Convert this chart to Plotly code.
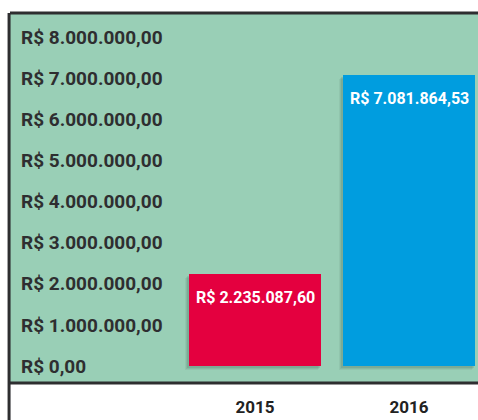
import plotly.graph_objects as go

# Values (R$) per year
years = ["2015", "2016"]
values = [2235087.60, 7081864.53]
bar_colors = ["#e4003f", "#009ddf"]

# Y-axis ticks
tick_vals = [0, 1000000, 2000000, 3000000, 4000000, 5000000, 6000000, 7000000, 8000000]


def brl(v):
    s = f"{v:,.2f}"
    s = s.replace(",", "X").replace(".", ",").replace("X", ".")
    return "R$ " + s


tick_text = [brl(v) for v in tick_vals]

FONT = "Roboto"
GREEN = "#99cfb6"
DARK = "#2e2e30"

W, H = 478, 420
ML, MR, MT, MB = 10, 0, 13, 37
plot_h = H - MT - MB
plot_w = W - ML - MR

y_min, y_max = -412000, 8582000
x_min, x_max = -1.591, 1.448
bar_w = 0.857

units_per_px_y = (y_max - y_min) / plot_h
units_per_px_x = (x_max - x_min) / plot_w

fig = go.Figure()

# soft drop shadow under each bar (a few translucent layers)
for k, a in [(4, 0.06), (3, 0.08), (2, 0.10)]:
    fig.add_trace(go.Bar(
        x=years, y=values,
        base=-k * units_per_px_y,
        width=bar_w + units_per_px_x * 1,
        offset=-bar_w / 2 - k * units_per_px_x,
        marker=dict(color=f"rgba(20,50,35,{a})", line=dict(width=0)),
        hoverinfo="skip", showlegend=False,
    ))

fig.add_trace(go.Bar(
    x=years, y=values,
    width=bar_w,
    marker=dict(color=bar_colors, line=dict(width=0)),
    showlegend=False,
))

for i, v in enumerate(values):
    fig.add_annotation(
        x=i, y=v, xref="x", yref="y", text=brl(v), showarrow=False,
        yanchor="top", yshift=-12,
        font=dict(family=FONT, size=16, color="#ffffff"),
    )

# frame lines
line = dict(color=DARK, width=3)
fig.add_shape(type="line", xref="paper", yref="paper", x0=0, x1=1, y0=1, y1=1, line=line)
fig.add_shape(type="line", xref="paper", yref="paper", x0=0, x1=1, y0=0, y1=0, line=line)
fig.add_shape(type="line", xref="paper", yref="paper", x0=-0.002, x1=-0.002,
              y0=-MB / plot_h, y1=1, line=line)

fig.update_layout(
    width=W, height=H,
    margin=dict(l=ML, r=MR, t=MT, b=MB),
    paper_bgcolor="white",
    plot_bgcolor=GREEN,
    barmode="overlay",
    bargap=0,
    font=dict(family=FONT, weight="bold"),
    xaxis=dict(
        type="category", range=[x_min, x_max],
        showgrid=False, zeroline=False, showline=False,
        ticks="", ticklabelstandoff=12,
        tickfont=dict(family=FONT, size=17, color="#222", weight="bold"),
    ),
    yaxis=dict(
        range=[y_min, y_max],
        tickvals=tick_vals, ticktext=tick_text,
        ticklabelposition="inside", ticklabelstandoff=8,
        showgrid=False, zeroline=False, showline=False, ticks="",
        tickfont=dict(family=FONT, size=19, color=DARK, weight="bold"),
    ),
)

fig.write_html("out.html")
